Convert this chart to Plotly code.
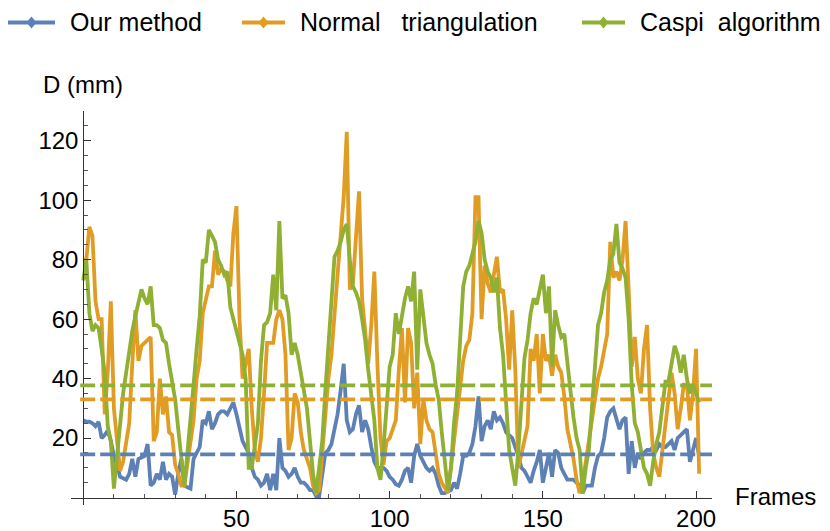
import plotly.graph_objects as go

# Frame indices and per-frame depth error D (mm) for the three methods
frames = list(range(0, 202))

ours = [26, 25.5, 25.5, 25, 24, 25.5, 20, 21, 22.5, 19, 14, 11, 7, 6.5, 6, 8, 13, 7, 13, 13.5,
        14, 18, 4, 5, 8, 6, 12, 6, 8, 7, 1, 8, 13, 4, 3.5, 3, 13, 15, 17, 26,
        25, 29, 23, 25, 28, 29, 29, 28, 30, 32, 28, 23, 19, 17, 15, 10, 7, 6, 4, 5,
        8, 2.5, 8, 2.5, 20, 10, 9, 7, 8, 10, 7, 5, 5, 4, 2.5, 2.5, 0.5, 0.5, 8, 15,
        16, 18, 23, 28, 36, 45, 26, 22, 23, 28, 31, 22, 26, 23, 17, 12, 10, 10, 10, 9,
        7, 6, 4.5, 4, 6, 9, 10, 5, 14, 18, 14, 12, 10, 9, 10, 8, 4, 1.5, 1.5, 2,
        2.5, 5, 3, 8, 14, 14, 15, 18, 24, 34, 19, 24, 26, 23, 29, 26, 27, 25, 22, 21,
        20, 17, 14, 10, 9, 7, 5, 9, 12, 16, 5, 10, 15, 7, 16, 15, 10, 8, 6, 6,
        6, 5, 4, 1.5, 4, 4, 4, 10, 14, 15, 20, 27, 29, 30, 26, 23, 26, 27, 8, 19,
        10, 15, 13, 15, 16, 16, 17, 16, 18, 17, 17, 18, 19, 16, 20, 21, 22, 23, 12, 16,
        20, 14]

normal = [80, 80, 91, 88, 66, 60, 60, 28, 42, 66, 30, 18, 9, 12, 18, 25, 45, 63, 46, 51,
          52, 53, 54, 19, 22, 40, 28, 34, 22, 21, 11, 8, 4, 4, 12, 20, 26, 40, 46, 62,
          66, 71, 71, 83, 75, 77, 76, 73, 71, 89, 98, 60, 40, 45, 50, 30, 16, 12, 20, 35,
          52, 52, 52, 60, 63, 60, 48, 16, 20, 35, 32, 22, 16, 13, 10, 4, 1.5, 2.5, 15, 28,
          40, 48, 60, 75, 88, 101, 123, 70, 72, 90, 103, 67, 57, 45, 58, 76, 45, 20, 11, 19,
          20, 23, 26, 43, 57, 32, 57, 52, 30, 42, 18, 33, 26, 23, 22, 15, 8, 5, 3, 1.5,
          10, 19, 26, 35, 46, 51, 53, 62, 101, 101, 60, 78, 72, 69, 75, 81, 69, 70, 60, 43,
          63, 43, 10, 15, 19, 24, 50, 46, 55, 35, 55, 46, 48, 41, 48, 44, 42, 34, 23, 18,
          13, 6, 1.5, 5, 12, 18, 24, 32, 40, 44, 50, 55, 86, 74, 76, 73, 80, 93, 70, 44,
          54, 40, 35, 50, 58, 30, 15, 10, 7, 16, 25, 33, 42, 35, 23, 30, 38, 38, 26, 35,
          50, 8]

caspi = [73, 80, 62, 56, 58, 57, 50, 42, 24, 19, 3, 13, 26, 35, 42, 50, 56, 61, 65, 70,
         67, 65, 71, 58, 58, 57, 53, 52, 45, 38, 33, 23, 13, 4, 15, 25, 38, 50, 61, 80,
         79, 90, 88, 86, 80, 78, 75, 76, 64, 60, 55, 52, 48, 40, 10, 10, 18, 25, 46, 58,
         59, 62, 75, 63, 93, 67, 68, 62, 48, 52, 48, 41, 36, 30, 20, 8, 1.5, 10, 19, 36,
         52, 64, 81, 83, 86, 90, 92, 80, 71, 69, 66, 60, 53, 43, 35, 26, 10, 6, 17, 30,
         44, 48, 62, 55, 61, 67, 71, 66, 76, 43, 70, 60, 52, 48, 45, 38, 33, 22, 13, 2.5,
         10, 25, 35, 53, 71, 76, 78, 82, 86, 93, 89, 80, 76, 74, 69, 74, 57, 48, 33, 16,
         10, 4, 16, 33, 47, 53, 62, 67, 65, 70, 75, 62, 71, 44, 63, 58, 54, 55, 44, 36,
         27, 20, 16, 1.5, 10, 16, 30, 45, 58, 62, 69, 73, 80, 82, 92, 79, 77, 74, 60, 38,
         25, 22, 16, 10, 8, 4, 12, 18, 22, 30, 39, 39, 45, 51, 48, 42, 48, 40, 35, 38,
         35, 32]

# Average error of each method (dashed reference lines)
mean_values = [14.5, 33.0, 37.7]

names = ["Our method", "Normal\u00a0\u00a0\u00a0triangulation", "Caspi\u00a0\u00a0algorithm"]
colors = ["#5E81B5", "#E19C24", "#8FB032"]
series = [ours, normal, caspi]

y_major = [20, 40, 60, 80, 100, 120]
y_minor = [v for v in range(5, 131, 5) if v not in y_major]
x_major = [50, 100, 150, 200]
x_minor = [v for v in range(10, 201, 10) if v not in x_major]

X_RANGE = [-4, 205.2]
Y_RANGE = [-2.5, 130]

W, H = 830, 531
L, R, T, B = 71, 712, 110.7, 505.3
FONT = "Liberation Sans, Arial, Helvetica, sans-serif"


def px(xp):
    return (xp - L) / (R - L)


def py(yp):
    return (B - yp) / (B - T)


fig = go.Figure()
for name, col, vals in zip(names, colors, series):
    fig.add_trace(go.Scatter(x=frames, y=vals, mode="lines", name=name,
                             line=dict(color=col, width=3.8), showlegend=False,
                             hoverinfo="skip"))

shapes = []
for col, m in zip(colors, mean_values):
    shapes.append(dict(type="line", xref="x", yref="y", x0=-1, x1=X_RANGE[1], y0=m, y1=m,
                       line=dict(color=col, width=3.8, dash="15px,5px"), layer="above"))

# Legend row drawn along the top
legend_keys = [(8, 55, 68), (242, 285, 298), (582, 625, 638)]
annotations = []
for (k0, k1, tx), col, name in zip(legend_keys, colors, names):
    yl = py(22)
    shapes.append(dict(type="line", xref="paper", yref="paper", x0=px(k0), x1=px(k1),
                       y0=yl, y1=yl, line=dict(color=col, width=4)))
    xm = px((k0 + k1) / 2)
    shapes.append(dict(type="path", xref="paper", yref="paper", xsizemode="pixel",
                       ysizemode="pixel", xanchor=xm, yanchor=yl,
                       path="M -5 0 L 0 6 L 5 0 L 0 -6 Z",
                       fillcolor=col, line=dict(color=col, width=0)))
    annotations.append(dict(text=name, xref="paper", yref="paper", x=px(tx), y=yl,
                            xanchor="left", yanchor="middle", showarrow=False,
                            font=dict(family=FONT, size=25, color="black")))

annotations.append(dict(text="D (mm)", xref="paper", yref="paper", x=px(82.5), y=py(84),
                        xanchor="center", yanchor="middle", showarrow=False,
                        font=dict(family=FONT, size=24, color="black")))
annotations.append(dict(text="Frames", xref="paper", yref="paper", x=px(733), y=py(497),
                        xanchor="left", yanchor="middle", showarrow=False,
                        font=dict(family=FONT, size=24, color="black")))

x_pos = (0 - Y_RANGE[0]) / (Y_RANGE[1] - Y_RANGE[0])
y_pos = (0 - X_RANGE[0]) / (X_RANGE[1] - X_RANGE[0])

fig.update_layout(
    width=W, height=H,
    margin=dict(l=L, r=W - R, t=T, b=H - B, pad=0, autoexpand=False),
    paper_bgcolor="white", plot_bgcolor="white",
    showlegend=False,
    shapes=shapes, annotations=annotations,
    font=dict(family=FONT, size=24, color="black"),
    xaxis=dict(range=X_RANGE, anchor="free", position=x_pos, showgrid=False, zeroline=False,
               automargin=False,
               showline=True, linecolor="#333333", linewidth=1,
               tickmode="array", tickvals=x_major, ticks="inside", ticklen=7,
               tickcolor="#333333", tickwidth=1,
               minor=dict(tickmode="array", tickvals=x_minor, ticks="inside", ticklen=4,
                          tickcolor="#555555", showgrid=False),
               tickfont=dict(family=FONT, size=24, color="black")),
    yaxis=dict(range=Y_RANGE, anchor="free", position=y_pos, showgrid=False, zeroline=False,
               automargin=False,
               showline=True, linecolor="#333333", linewidth=1,
               tickmode="array", tickvals=y_major, ticks="inside", ticklen=7,
               tickcolor="#333333", tickwidth=1,
               minor=dict(tickmode="array", tickvals=y_minor, ticks="inside", ticklen=4,
                          tickcolor="#555555", showgrid=False),
               tickfont=dict(family=FONT, size=24, color="black")),
)

fig.write_html("out.html")
